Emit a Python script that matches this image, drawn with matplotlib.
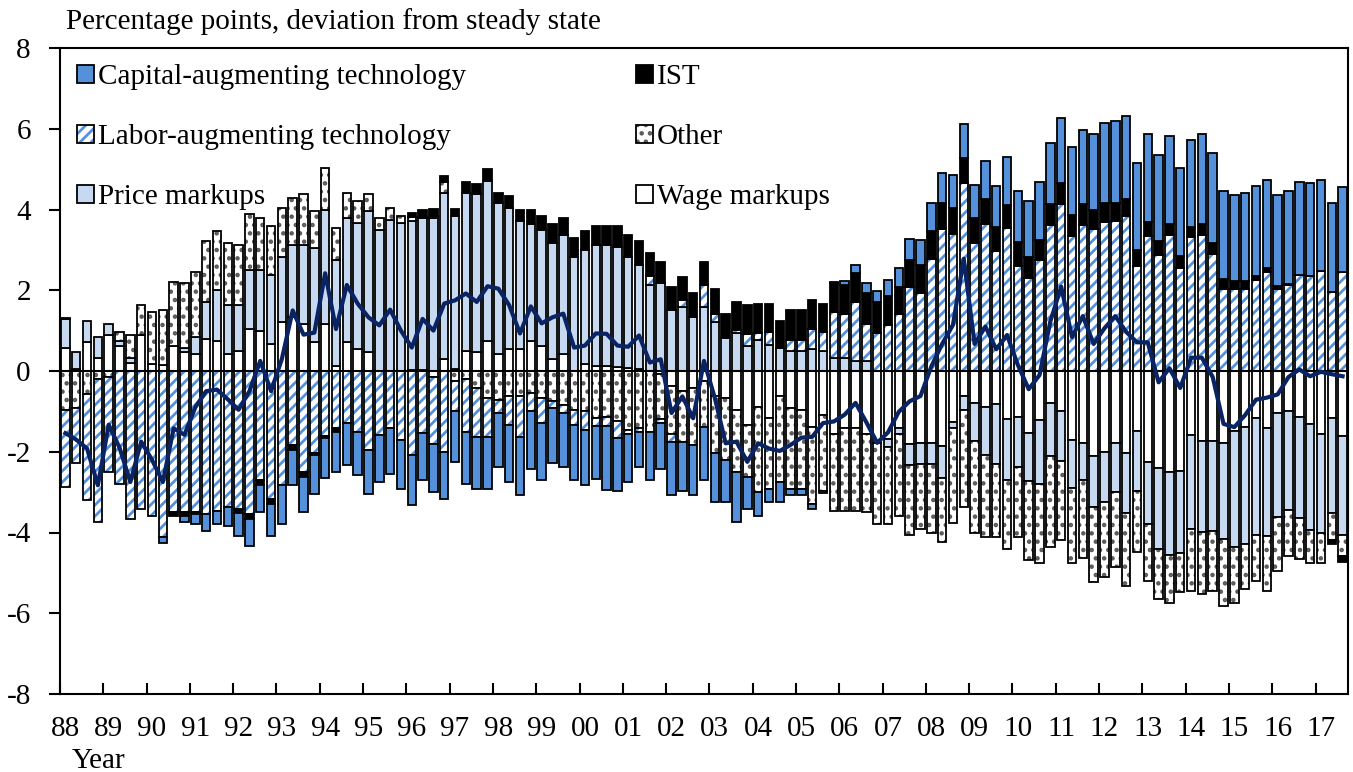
import numpy as np
import matplotlib
matplotlib.use('Agg')
import matplotlib.pyplot as plt
import matplotlib.patches as mpatches

plt.rcParams['font.family'] = ['Liberation Serif', 'DejaVu Serif']
plt.rcParams['axes.unicode_minus'] = False
plt.rcParams['hatch.linewidth'] = 2.0

# quarterly contributions, 1988Q1 - 2017Q3
wage = [0.58, 0.05, 0.71, 0.33, 0.88, 0.63, 0.21, 0.88, 0.17, 0.15,
        0.63, 0.46, 0.42, 0.79, 0.75, 0.42, 0.5, 1.04, 1.0, 0.67,
        1.21, 1.33, 1.17, 0.71, 1.17, 0.12, 0.71, 0.54, 0.46, 0.0,
        0.0, 0.0, 0.03, 0.03, -0.15, 0.29, 0.05, 0.5, 0.46, 0.75,
        0.42, 0.54, 0.54, 0.75, 0.63, 0.29, 0.42, 0.0, 0.17, 0.12,
        0.12, 0.1, 0.08, 0.05, 0.0, -0.08, -0.38, -0.5, -0.42, -0.25,
        -0.63, -0.67, -0.96, -1.33, -0.88, -1.17, -0.63, -0.92, -0.96, -1.38,
        -1.08, -1.57, -1.42, -1.42, -1.57, -1.78, -1.68, -1.4, -1.8, -1.78,
        -1.78, -1.86, -1.27, -0.62, -0.79, -0.88, -0.82, -1.18, -1.13, -1.54,
        -1.22, -0.79, -1.0, -1.71, -1.78, -2.11, -2.0, -1.78, -2.04, -1.48,
        -2.25, -2.4, -2.51, -2.47, -1.59, -1.74, -1.74, -1.78, -1.48, -1.39,
        -1.16, -1.42, -1.05, -0.99, -1.14, -1.31, -1.57, -1.16, -1.61]
price = [0.71, 0.41, 0.52, 0.5, 0.29, 0.12, 0.12, 0.0, 0.0, 0.0,
         0.0, 0.12, 0.41, 0.92, 1.25, 1.21, 1.13, 1.46, 1.5, 1.71,
         1.62, 1.8, 1.96, 2.33, 2.83, 2.63, 3.08, 3.13, 3.5, 3.5,
         3.75, 3.67, 3.68, 3.76, 3.79, 4.13, 3.78, 3.92, 3.92, 3.96,
         3.75, 3.5, 3.17, 2.9, 2.87, 2.88, 2.96, 2.83, 2.83, 3.01,
         3.0, 2.98, 2.75, 2.58, 2.13, 2.17, 1.5, 1.58, 1.33, 1.58,
         1.21, 0.82, 0.93, 0.63, 0.77, 0.65, 0.57, 0.5, 0.5, 0.54,
         0.5, 0.32, 0.32, 0.24, 0.24, 0.0, -0.19, -0.17, -0.54, -0.52,
         -0.53, -0.78, -0.13, -0.34, -0.95, -1.2, -1.48, -1.53, -1.24, -1.19,
         -1.58, -1.32, -1.23, -1.19, -0.93, -1.26, -1.24, -1.21, -1.48, -1.49,
         -1.55, -2.01, -2.04, -2.05, -2.33, -2.24, -2.22, -2.37, -2.87, -2.9,
         -2.9, -2.67, -2.56, -2.45, -2.49, -2.62, -2.43, -2.36, -2.45]
other = [-0.96, -0.92, -0.58, -0.2, -0.15, 0.21, 0.55, 0.75, 1.29, 1.35,
         1.58, 1.6, 1.63, 1.5, 1.46, 1.54, 1.5, 1.38, 1.29, 1.2,
         1.21, 1.16, 1.25, 0.92, 1.04, 0.79, 0.63, 0.54, 0.42, 0.29,
         0.29, 0.16, 0.1, 0.0, 0.05, 0.25, -0.25, -0.2, -0.42, -0.67,
         -0.71, -0.63, -0.63, -0.54, -0.67, -0.75, -0.83, -0.96, -1.0, -1.17,
         -1.15, -1.25, -1.46, -1.42, -1.5, -1.1, -1.17, -1.25, -1.41, -1.13,
         -1.41, -1.54, -1.54, -1.3, -2.12, -1.75, -2.12, -2.0, -1.96, -1.91,
         -1.88, -1.89, -2.04, -2.04, -1.93, -2.02, -1.91, -2.03, -1.72, -1.62,
         -1.71, -1.59, -2.36, -2.41, -2.26, -2.02, -1.82, -1.7, -1.75, -1.96,
         -1.95, -2.25, -1.96, -1.85, -1.91, -1.85, -1.85, -1.87, -1.81, -1.52,
         -1.4, -1.24, -1.2, -0.96, -1.52, -1.54, -1.5, -1.66, -1.39, -1.11,
         -1.15, -1.35, -1.34, -1.14, -1.03, -0.82, -0.75, -0.67, -0.52]
labor = [-1.92, -1.37, -2.62, -3.55, -2.35, -2.79, -3.67, -3.42, -3.6, -4.1,
         -3.5, -3.5, -3.5, -3.54, -3.46, -3.38, -3.42, -3.54, -2.7, -3.17,
         -2.83, -1.83, -2.5, -2.04, -1.6, -1.42, -1.29, -1.5, -1.96, -1.58,
         -1.42, -1.71, -2.08, -1.54, -1.65, -2.0, -0.75, -1.3, -1.21, -0.96,
         -0.33, -0.7, -1.0, -0.46, -0.62, -0.17, -0.21, -0.37, -0.46, -0.2,
         -0.2, -0.42, -0.1, -0.1, 0.22, -0.1, -0.2, 0.17, 0.0, 0.55,
         0.21, 0.0, 0.08, 0.29, 0.16, 0.31, 0.0, 0.27, 0.27, 0.5,
         0.46, 1.14, 1.1, 1.46, 0.92, 0.93, 1.14, 1.4, 2.07, 1.94,
         2.78, 3.51, 3.4, 4.66, 3.17, 3.64, 2.97, 3.54, 2.59, 2.31,
         2.74, 3.62, 4.14, 3.34, 3.62, 3.51, 3.68, 3.71, 3.83, 2.61,
         3.34, 2.88, 3.36, 2.56, 3.31, 3.38, 2.91, 2.02, 2.02, 2.02,
         2.25, 2.44, 2.02, 2.13, 2.37, 2.35, 2.48, 1.96, 2.44]
ist = [0.03, 0, 0, 0, 0, 0, 0, 0, 0, 0,
       -0.08, -0.08, -0.05, 0, 0, 0, -0.1, -0.12, -0.12, -0.12,
       0, -0.12, -0.12, -0.05, -0.05, -0.08, 0, 0, 0, 0,
       0, 0, 0.11, 0.21, 0.18, 0.16, 0.17, 0.25, 0.25, 0.29,
       0.25, 0.29, 0.29, 0.35, 0.33, 0.46, 0.41, 0.46, 0.46, 0.47,
       0.46, 0.5, 0.55, 0.58, 0.57, 0.54, 0.58, 0.58, 0.59, 0.58,
       0.62, 0.6, 0.7, 0.71, 0.72, 0.69, 0.68, 0.73, 0.73, 0.71,
       0.71, 0.71, 0.71, 0.72, 0.76, 0.77, 0.71, 0.69, 0.69, 0.68,
       0.69, 0.66, 0.63, 0.62, 0.63, 0.62, 0.6, 0.57, 0.6, 0.51,
       0.51, 0.52, 0.52, 0.52, 0.52, 0.49, 0.49, 0.45, 0.43, 0.39,
       0.34, 0.33, 0.28, 0.29, 0.26, 0.26, 0.26, 0.26, 0.2, 0.2,
       0.1, 0.1, 0.09, 0.02, 0, 0, 0, -0.1, -0.14]
capital = [0, 0, 0, 0, 0, 0, 0, 0, 0, -0.15,
           0, -0.17, -0.25, -0.42, -0.34, -0.45, -0.56, -0.67, -0.68, -0.79,
           -0.96, -0.88, -0.88, -0.95, -1.0, -1.0, -1.04, -1.08, -1.08, -1.17,
           -1.12, -1.21, -1.25, -1.17, -1.2, -1.17, -1.25, -1.29, -1.29, -1.29,
           -1.34, -1.42, -1.45, -1.42, -1.42, -1.37, -1.34, -1.38, -1.37, -1.3,
           -1.6, -1.29, -1.19, -0.86, -1.21, -1.14, -1.33, -1.21, -1.25, -1.33,
           -1.21, -1.04, -1.25, -0.79, -0.58, -0.33, -0.5, -0.16, -0.16, -0.13,
           -0.05, 0.04, 0.1, 0.2, 0.26, 0.29, 0.41, 0.47, 0.52, 0.63,
           0.69, 0.74, 0.82, 0.84, 0.8, 0.95, 1.02, 1.18, 1.27, 1.38,
           1.42, 1.5, 1.61, 1.69, 1.82, 1.86, 1.97, 2.02, 2.05, 2.15,
           2.2, 2.13, 2.17, 2.18, 2.15, 2.22, 2.23, 2.18, 2.13, 2.18,
           2.22, 2.2, 2.24, 2.31, 2.3, 2.3, 2.24, 2.21, 2.12]
total = [-1.54, -1.7, -1.92, -2.83, -1.33, -1.9, -2.75, -1.75, -2.2, -2.75,
         -1.42, -1.58, -0.9, -0.5, -0.46, -0.7, -0.96, -0.5, 0.25, -0.5,
         0.3, 1.5, 0.9, 0.95, 2.42, 1.04, 2.13, 1.67, 1.33, 1.13,
         1.52, 1.0, 0.58, 1.29, 1.0, 1.67, 1.75, 1.92, 1.71, 2.1,
         2.04, 1.63, 0.93, 1.6, 1.18, 1.33, 1.42, 0.58, 0.63, 0.93,
         0.92, 0.63, 0.6, 0.88, 0.21, 0.29, -1.04, -0.63, -1.17, 0.25,
         -0.67, -1.79, -1.75, -2.25, -1.79, -1.92, -1.98, -1.83, -1.65, -1.63,
         -1.29, -1.25, -1.08, -0.79, -1.27, -1.78, -1.52, -1.01, -0.75, -0.62,
         0.11, 0.67, 1.14, 2.78, 0.67, 1.1, 0.54, 0.89, 0.15, -0.45,
         -0.1, 1.23, 2.09, 0.84, 1.36, 0.67, 1.06, 1.36, 0.97, 0.71,
         0.71, -0.28, 0.07, -0.42, 0.33, 0.33, -0.15, -1.31, -1.39, -1.09,
         -0.71, -0.66, -0.58, -0.15, 0.04, -0.13, -0.02, -0.08, -0.13]
year_labels = ['88', '89', '90', '91', '92', '93', '94', '95', '96', '97',
               '98', '99', '00', '01', '02', '03', '04', '05', '06', '07',
               '08', '09', '10', '11', '12', '13', '14', '15', '16', '17']

BLUE = '#5591DB'
LIGHT = '#C6D9F1'
NAVY = '#0A2463'
DOTS = '#5a5a5a'
W = 0.78
LW = 1.3
FS = 21

fig = plt.figure(figsize=(13.53, 7.72), dpi=100)
ax = fig.add_axes([60 / 1353, 1 - 694 / 772, 1288 / 1353, 646 / 772])

x = np.arange(len(wage))
pos_base = np.zeros(len(x))
neg_base = np.zeros(len(x))

# stacked outward from zero in this order; hatched ones get (hatch, hatch colour)
series = [
    ('Wage markups', wage, 'white', None),
    ('Price markups', price, LIGHT, None),
    ('Other', other, 'white', ('..', DOTS)),
    ('Labor-augmenting technology', labor, 'white', ('///', BLUE)),
    ('IST', ist, 'black', None),
    ('Capital-augmenting technology', capital, BLUE, None),
]
handles = {}
for name, vals, fc, hatch in series:
    v = np.array(vals, dtype=float)
    base = np.where(v >= 0, pos_base, neg_base)
    keep = v != 0
    if hatch:
        # pattern in its own colour, then a black outline on top
        ax.bar(x[keep], v[keep], bottom=base[keep], width=W, facecolor=fc,
               edgecolor=hatch[1], hatch=hatch[0], linewidth=0, zorder=2)
        ax.bar(x[keep], v[keep], bottom=base[keep], width=W, fill=False,
               edgecolor='black', linewidth=LW, zorder=2)
        handles[name] = (mpatches.Patch(facecolor=fc, edgecolor=hatch[1], hatch=hatch[0], linewidth=0),
                         mpatches.Patch(fill=False, edgecolor='black', linewidth=LW))
    else:
        ax.bar(x[keep], v[keep], bottom=base[keep], width=W, facecolor=fc,
               edgecolor='black', linewidth=LW, zorder=2)
        handles[name] = mpatches.Patch(facecolor=fc, edgecolor='black', linewidth=LW)
    pos_base += np.where(v > 0, v, 0)
    neg_base += np.where(v < 0, v, 0)

ax.axhline(0, color='black', linewidth=1.5, zorder=3)
ax.plot(x, total, color=NAVY, linewidth=3.0, zorder=4)

ax.set_xlim(-0.5, len(x) - 0.5)
ax.set_ylim(-8, 8)
ax.set_yticks(np.arange(-8, 9, 2))
ax.tick_params(axis='y', direction='out', length=8, width=1.5, pad=13, labelsize=FS)
ax.set_xticks(np.arange(-0.5, len(x), 4))
ax.set_xticks(np.arange(0, len(x), 4), labels=year_labels, minor=True)
ax.tick_params(axis='x', which='major', direction='in', length=8, width=1.5, labelbottom=False)
ax.tick_params(axis='x', which='minor', length=0, pad=16, labelsize=FS)
for s in ax.spines.values():
    s.set_linewidth(1.5)

order = ['Capital-augmenting technology', 'Labor-augmenting technology', 'Price markups',
         'IST', 'Other', 'Wage markups']
ax.legend([handles[n] for n in order], order, ncol=2, loc='upper left',
          bbox_to_anchor=(0.0132, 0.975), frameon=False, fontsize=FS,
          handlelength=0.58, handleheight=0.58, handletextpad=0.15,
          labelspacing=1.17, columnspacing=5.8, borderpad=0, borderaxespad=0)

fig.text(66 / 1353, 1 - 22 / 772, 'Percentage points, deviation from steady state',
         fontsize=FS, ha='left', va='center')
fig.text(72 / 1353, 1 - 761 / 772, 'Year', fontsize=FS, ha='left', va='center')

fig.savefig('out.png', dpi=100)
